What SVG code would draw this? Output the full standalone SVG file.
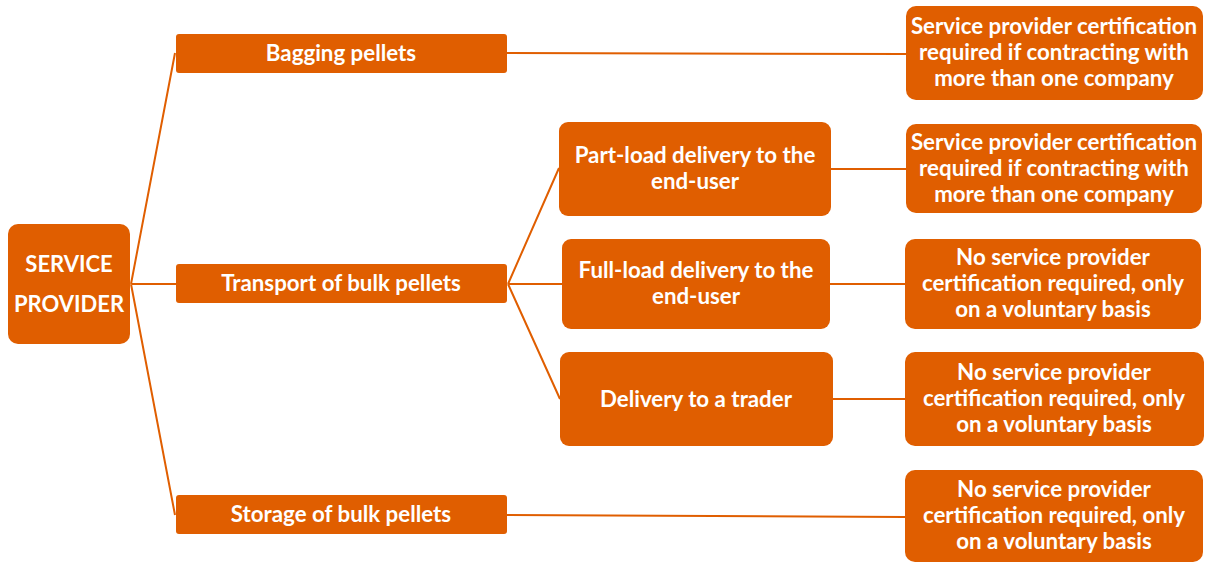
<svg xmlns="http://www.w3.org/2000/svg" width="1205" height="563" viewBox="0 0 1205 563">
<style>
.box{fill:#E05E00;}
.t{font-family:Lato,"Open Sans","Liberation Sans",sans-serif;font-weight:bold;font-size:22.3px;fill:#fff;text-anchor:middle;}
.big{font-size:22px;}
.c{stroke:#E05E00;stroke-width:2;fill:none;}
</style>
<rect width="1205" height="563" fill="#fff"/>
<g id="connectors">
<path class="c" d="M131,284 L175,53 M131,284 L176,284 M131,284 L175,515"/>
<path class="c" d="M507,53 L906,54 M507,515 L905,517"/>
<path class="c" d="M508,284 L559,168 M508,284 L562,284 M508,284 L560,399"/>
<path class="c" d="M831,169 L906,169 M830,284 L905,284 M833,399 L905,399"/>
</g>
<g id="root"><rect class="box" x="8" y="224" width="122" height="120" rx="10"/>
<text class="t big" x="69" y="272">SERVICE</text><text class="t big" x="69" y="312">PROVIDER</text></g>
<g id="bagging"><rect class="box" x="176" y="34" width="331" height="39" rx="3"/>
<text class="t" x="341" y="61">Bagging pellets</text></g>
<g id="transport"><rect class="box" x="176" y="264" width="331" height="39" rx="3"/>
<text class="t" x="341" y="291">Transport of bulk pellets</text></g>
<g id="storage"><rect class="box" x="176" y="495" width="331" height="39" rx="3"/>
<text class="t" x="341" y="522">Storage of bulk pellets</text></g>
<g id="partload"><rect class="box" x="559" y="122" width="272" height="94" rx="9"/>
<text class="t" x="695" y="163">Part-load delivery to the</text><text class="t" x="695" y="189">end-user</text></g>
<g id="fullload"><rect class="box" x="562" y="239" width="268" height="90" rx="9"/>
<text class="t" x="696" y="278">Full-load delivery to the</text><text class="t" x="696" y="304">end-user</text></g>
<g id="trader"><rect class="box" x="560" y="352" width="273" height="94" rx="9"/>
<text class="t" x="696" y="407">Delivery to a trader</text></g>
<g id="r1"><rect class="box" x="906" y="6" width="297" height="94" rx="10"/>
<text class="t" x="1054" y="34">Service provider certification</text><text class="t" x="1054" y="60">required if contracting with</text><text class="t" x="1054" y="86">more than one company</text></g>
<g id="r2"><rect class="box" x="906" y="124" width="296" height="89" rx="10"/>
<text class="t" x="1054" y="150">Service provider certification</text><text class="t" x="1054" y="176">required if contracting with</text><text class="t" x="1054" y="202">more than one company</text></g>
<g id="r3"><rect class="box" x="905" y="239" width="296" height="90" rx="10"/>
<text class="t" x="1053" y="265">No service provider</text><text class="t" x="1053" y="291">certification required, only</text><text class="t" x="1053" y="317">on a voluntary basis</text></g>
<g id="r4"><rect class="box" x="905" y="352" width="299" height="94" rx="10"/>
<text class="t" x="1054" y="380">No service provider</text><text class="t" x="1054" y="406">certification required, only</text><text class="t" x="1054" y="432">on a voluntary basis</text></g>
<g id="r5"><rect class="box" x="905" y="470" width="298" height="92" rx="10"/>
<text class="t" x="1054" y="497">No service provider</text><text class="t" x="1054" y="523">certification required, only</text><text class="t" x="1054" y="549">on a voluntary basis</text></g>
</svg>
